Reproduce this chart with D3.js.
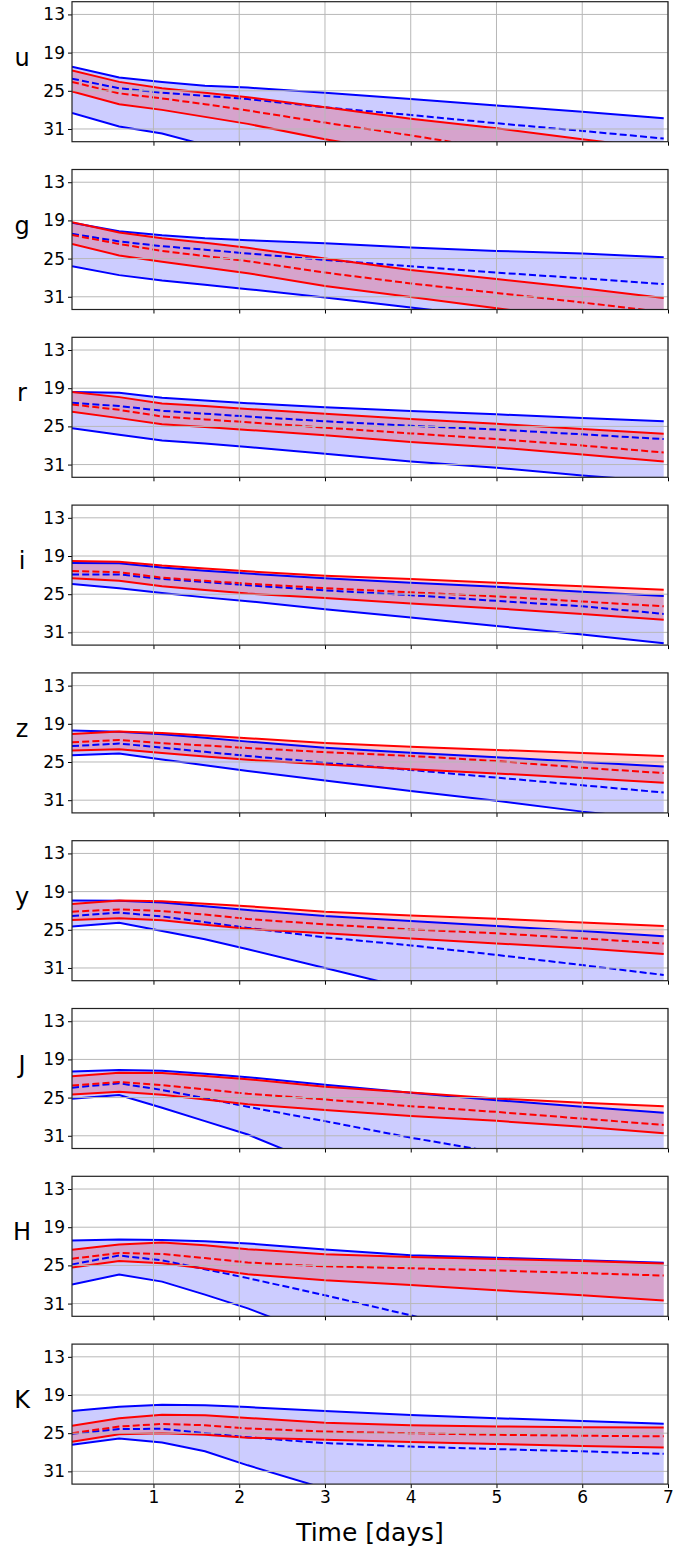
<!DOCTYPE html>
<html>
<head>
<meta charset="utf-8">
<script src="https://cdn.jsdelivr.net/npm/d3@7"></script>
<style>
  html, body { margin: 0; padding: 0; background: #fff; }
  svg { display: block; font-family: "DejaVu Sans", sans-serif; }
</style>
</head>
<body>
<svg id="chart" width="691" height="1548"></svg>
<script>
// ---- data ----
const times = [0.05, 0.6, 1.1, 1.6, 2.1, 3, 4, 5, 6, 6.95];
const bands = ["u", "g", "r", "i", "z", "y", "J", "H", "K"];
const yTicks = [13, 19, 25, 31];
const xTicks = [1, 2, 3, 4, 5, 6, 7];

// blue model: upper/lower envelope and median (rows in band order)
const blueUpper = [
  [21.2, 22.9, 23.6, 24.2, 24.5, 25.3, 26.3, 27.3, 28.3, 29.3],
  [19.35, 20.7, 21.35, 21.8, 22.1, 22.6, 23.25, 23.8, 24.2, 24.8],
  [19.6, 19.7, 20.5, 20.95, 21.35, 22.0, 22.6, 23.1, 23.7, 24.2],
  [20.1, 20.15, 20.8, 21.3, 21.75, 22.5, 23.2, 23.85, 24.6, 25.3],
  [20.05, 20.25, 20.65, 21.2, 21.8, 22.75, 23.55, 24.25, 25.0, 25.7],
  [20.4, 20.45, 20.7, 21.3, 21.9, 22.85, 23.6, 24.4, 25.2, 26.0],
  [20.9, 20.65, 20.8, 21.25, 21.8, 23.0, 24.25, 25.4, 26.45, 27.4],
  [21.1, 20.95, 21.0, 21.2, 21.55, 22.5, 23.4, 23.8, 24.2, 24.6],
  [21.5, 20.85, 20.55, 20.6, 20.9, 21.5, 22.15, 22.65, 23.1, 23.5]
];
const blueLower = [
  [28.5, 30.6, 31.7, 33.5, 34.8, 36.8, 38.5, 40, 41.5, 43],
  [26.2, 27.6, 28.45, 29.1, 29.8, 31.1, 32.7, 34.2, 35.7, 37],
  [25.3, 26.3, 27.2, 27.7, 28.25, 29.3, 30.5, 31.5, 32.7, 33.7],
  [23.4, 24.05, 24.8, 25.5, 26.1, 27.35, 28.65, 30.0, 31.35, 32.7],
  [23.95, 23.65, 24.6, 25.5, 26.4, 27.9, 29.55, 31.1, 32.8, 34.1],
  [24.5, 23.9, 25.2, 26.5, 28.05, 31.0, 34.3, 37, 40, 43],
  [25.2, 24.6, 26.6, 28.7, 30.8, 35.8, 39, 42, 45, 48],
  [28.0, 26.45, 27.55, 29.6, 31.75, 36.4, 40, 43, 46, 49],
  [26.8, 25.85, 26.45, 27.85, 30.05, 33.7, 37, 39.5, 42, 44.5]
];
const blueMedian = [
  [23.1, 24.6, 25.3, 25.8, 26.3, 27.6, 28.8, 30.1, 31.3, 32.5],
  [21.1, 22.3, 23.05, 23.6, 24.2, 25.2, 26.2, 27.2, 28.1, 29.0],
  [21.3, 21.8, 22.55, 23.0, 23.45, 24.2, 24.9, 25.5, 26.25, 27.0],
  [21.9, 21.9, 22.6, 23.1, 23.6, 24.4, 25.15, 26.05, 26.9, 28.1],
  [22.5, 22.1, 22.75, 23.4, 24.05, 25.1, 26.25, 27.45, 28.65, 29.8],
  [22.85, 22.3, 22.9, 23.8, 24.7, 26.2, 27.45, 28.95, 30.55, 32.1],
  [23.45, 22.75, 23.8, 25.1, 26.45, 28.7, 31.3, 33.6, 35.2, 36.6],
  [24.85, 23.45, 24.2, 25.6, 27.0, 29.7, 32.85, 36, 39, 42],
  [25.1, 24.35, 24.3, 25.0, 25.65, 26.55, 27.1, 27.5, 27.85, 28.25]
];

// red model: upper/lower envelope and median
const redUpper = [
  [21.8, 23.6, 24.6, 25.3, 26.0, 27.6, 29.4, 30.9, 32.6, 34.2],
  [19.3, 20.9, 21.8, 22.5, 23.3, 25.0, 26.8, 28.2, 29.65, 31.2],
  [19.6, 20.4, 21.4, 21.8, 22.25, 23.0, 23.85, 24.6, 25.4, 26.15],
  [19.8, 19.9, 20.5, 20.95, 21.4, 22.1, 22.6, 23.2, 23.75, 24.3],
  [20.6, 20.2, 20.45, 20.85, 21.25, 22.0, 22.6, 23.1, 23.6, 24.05],
  [20.95, 20.4, 20.5, 20.9, 21.3, 22.15, 22.75, 23.25, 23.85, 24.4],
  [21.65, 21.1, 21.15, 21.6, 22.1, 23.3, 24.2, 25.15, 25.8, 26.35],
  [22.55, 21.7, 21.4, 21.85, 22.45, 23.25, 23.7, 24.0, 24.3, 24.7],
  [23.85, 22.65, 22.1, 22.2, 22.6, 23.35, 23.75, 23.95, 24.05, 24.1]
];
const redLower = [
  [25.1, 27.1, 28.0, 29.1, 30.2, 32.6, 35, 37, 39, 41],
  [22.7, 24.5, 25.5, 26.4, 27.3, 29.3, 31.05, 32.8, 34.5, 36],
  [22.7, 23.7, 24.65, 25.1, 25.55, 26.4, 27.45, 28.3, 29.4, 30.5],
  [22.5, 22.9, 23.75, 24.35, 24.9, 25.6, 26.45, 27.25, 28.1, 29.0],
  [23.2, 23.0, 23.6, 24.15, 24.65, 25.4, 26.15, 26.8, 27.5, 28.25],
  [23.45, 23.2, 23.5, 24.2, 24.85, 25.55, 26.35, 27.15, 27.9, 28.8],
  [24.5, 24.1, 24.55, 25.3, 26.05, 26.95, 27.9, 28.65, 29.6, 30.6],
  [25.35, 24.3, 24.65, 25.5, 26.4, 27.35, 28.1, 28.9, 29.7, 30.5],
  [26.35, 25.15, 25.0, 25.25, 25.7, 26.05, 26.4, 26.7, 27.0, 27.25]
];
const redMedian = [
  [23.6, 25.4, 26.2, 27.1, 28.1, 30.0, 32.0, 34.2, 36, 38],
  [21.3, 22.7, 23.8, 24.6, 25.4, 27.2, 28.9, 30.4, 31.9, 33.4],
  [21.55, 22.4, 23.45, 23.9, 24.35, 25.2, 26.1, 27.0, 28.0, 29.1],
  [21.35, 21.55, 22.4, 22.9, 23.35, 24.05, 24.7, 25.35, 26.15, 26.9],
  [21.9, 21.55, 22.05, 22.4, 22.8, 23.45, 24.05, 24.85, 25.9, 26.75],
  [22.15, 21.8, 22.05, 22.6, 23.3, 24.15, 24.95, 25.55, 26.35, 27.15],
  [23.1, 22.55, 23.05, 23.7, 24.4, 25.3, 26.35, 27.25, 28.3, 29.3],
  [23.95, 23.05, 23.2, 23.85, 24.55, 25.15, 25.45, 25.8, 26.2, 26.6],
  [25.0, 23.95, 23.55, 23.75, 24.25, 24.75, 25.0, 25.25, 25.4, 25.5]
];

// ---- layout ----
const left = 72, right = 668;
const panelTop0 = 1.7, panelStep = 167.8, panelH = 140;
const svg = d3.select("#chart");

const x = d3.scaleLinear().domain([0.05, 7]).range([left, right]);

bands.forEach((band, i) => {
  const top = panelTop0 + i * panelStep;
  const y = d3.scaleLinear().domain([11, 33]).range([top, top + panelH]);
  const g = svg.append("g");

  const clipId = "clip" + i;
  svg.append("clipPath").attr("id", clipId)
    .append("rect").attr("x", left).attr("y", top)
    .attr("width", right - left).attr("height", panelH);

  const plot = g.append("g").attr("clip-path", `url(#${clipId})`);

  const zip = (a, b) => times.map((t, k) => [t, a[k], b ? b[k] : null]);
  const area = d3.area().x(d => x(d[0])).y0(d => y(d[1])).y1(d => y(d[2]));
  const line = d3.line().x(d => x(d[0])).y(d => y(d[1]));

  // fills
  plot.append("path").datum(zip(blueUpper[i], blueLower[i]))
    .attr("d", area).attr("fill", "rgb(0,0,255)").attr("fill-opacity", 0.2);
  plot.append("path").datum(zip(redUpper[i], redLower[i]))
    .attr("d", area).attr("fill", "rgb(255,0,0)").attr("fill-opacity", 0.2);

  // grid
  const grid = g.append("g").attr("stroke", "#b8b8b8").attr("stroke-width", 1);
  xTicks.forEach(t => grid.append("line")
    .attr("x1", x(t)).attr("x2", x(t)).attr("y1", top).attr("y2", top + panelH));
  yTicks.forEach(v => grid.append("line")
    .attr("x1", left).attr("x2", right).attr("y1", y(v)).attr("y2", y(v)));

  // lines
  const drawLine = (vals, color, dashed) => {
    plot.append("path").datum(zip(vals))
      .attr("d", line).attr("fill", "none")
      .attr("stroke", color).attr("stroke-width", 2)
      .attr("stroke-dasharray", dashed ? "7,3.2" : null);
  };
  drawLine(blueUpper[i], "#0000ff", false);
  drawLine(blueLower[i], "#0000ff", false);
  drawLine(blueMedian[i], "#0000ff", true);
  drawLine(redUpper[i], "#ff0000", false);
  drawLine(redLower[i], "#ff0000", false);
  drawLine(redMedian[i], "#ff0000", true);

  // axes
  const yAxis = d3.axisLeft(y).tickValues(yTicks).tickSize(4).tickPadding(3).tickFormat(d3.format("d"));
  const ya = g.append("g").attr("transform", `translate(${left},0)`).call(yAxis);
  ya.select(".domain").remove();
  ya.selectAll("text").attr("font-size", 17).attr("font-family", "DejaVu Sans").attr("fill", "#000");

  const xAxis = d3.axisBottom(x).tickValues(xTicks).tickSize(4).tickPadding(3).tickFormat(d3.format("d"));
  const xa = g.append("g").attr("transform", `translate(0,${top + panelH})`).call(xAxis);
  xa.select(".domain").remove();
  xa.selectAll("text").attr("font-size", 17).attr("font-family", "DejaVu Sans").attr("fill", "#000");
  if (i !== bands.length - 1) xa.selectAll("text").remove();

  // frame
  g.append("rect").attr("x", left).attr("y", top)
    .attr("width", right - left).attr("height", panelH)
    .attr("fill", "none").attr("stroke", "#222").attr("stroke-width", 1.2);

  // band label
  g.append("text").attr("x", 22).attr("y", top + panelH / 2 - 6)
    .attr("text-anchor", "middle").attr("font-size", 24).attr("fill", "#000")
    .text(band);
});

svg.append("text").attr("x", (left + right) / 2).attr("y", 1541)
  .attr("text-anchor", "middle").attr("font-size", 25).attr("fill", "#000")
  .text("Time [days]");
</script>
</body>
</html>
